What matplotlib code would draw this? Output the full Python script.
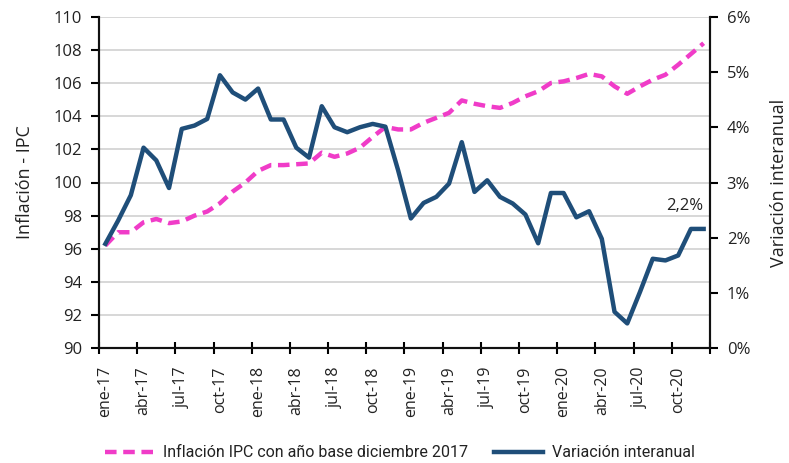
import matplotlib
matplotlib.use("Agg")
import matplotlib.pyplot as plt
from matplotlib.ticker import FixedLocator, FuncFormatter

plt.rcParams["font.family"] = ["Open Sans", "DejaVu Sans"]

months = ["ene", "feb", "mar", "abr", "may", "jun", "jul", "ago", "sep", "oct", "nov", "dic"]
years = ["17", "18", "19", "20"]
dates = [f"{m}-{y}" for y in years for m in months]

ipc = [96.2, 97.0, 97.0, 97.6, 97.8, 97.55, 97.65, 98.0, 98.25, 98.75, 99.45, 100.0,
       100.7, 101.05, 101.05, 101.1, 101.15, 101.8, 101.55, 101.75, 102.1, 102.75, 103.35, 103.2,
       103.2, 103.6, 103.9, 104.2, 104.95, 104.75, 104.6, 104.5, 104.8, 105.2, 105.5, 106.0,
       106.1, 106.3, 106.55, 106.4, 105.8, 105.35, 105.8, 106.2, 106.5, 107.1, 107.75, 108.4]

var_pct = [1.89, 2.31, 2.77, 3.63, 3.40, 2.90, 3.97, 4.03, 4.15, 4.94, 4.63, 4.50,
           4.70, 4.14, 4.14, 3.63, 3.45, 4.38, 4.00, 3.91, 4.00, 4.06, 4.01, 3.22,
           2.35, 2.63, 2.74, 2.98, 3.73, 2.83, 3.04, 2.74, 2.62, 2.42, 1.90, 2.81,
           2.81, 2.37, 2.48, 1.98, 0.66, 0.45, 1.02, 1.62, 1.59, 1.68, 2.16, 2.16]

left_ticks = list(range(90, 111, 2))
right_ticks = [0, 1, 2, 3, 4, 5, 6]
label_idx = list(range(0, 48, 3))

pink = "#f03cc8"
blue = "#1f4e79"
txt = "#222222"

fig = plt.figure(figsize=(7.89, 4.63), dpi=100)
ax = fig.add_axes([99/789, 1-348.3/463, (710-99)/789, (348.3-16.7)/463])
ax2 = ax.twinx()

x = list(range(len(dates)))
l1, = ax.plot(x, ipc, color=pink, lw=3.2, ls=(0, (2.6, 1.5)), zorder=3)
l2, = ax2.plot(x, var_pct, color=blue, lw=3.2, zorder=3)

ax.set_xlim(-0.5, 47.5)
ax.set_ylim(90, 110)
ax2.set_ylim(0, 6)
ax.set_yticks(left_ticks)
ax2.set_yticks(right_ticks)
ax2.yaxis.set_major_formatter(FuncFormatter(lambda v, p: f"{int(v)}%"))

ax.set_xticks(label_idx)
ax.set_xticklabels([dates[i] for i in label_idx], rotation=90, fontsize=11.5, color=txt)
ax.tick_params(axis="x", which="major", length=0, pad=13)
ax.xaxis.set_minor_locator(FixedLocator([i - 0.5 for i in range(0, 49, 3)]))
ax.tick_params(axis="x", which="minor", length=9, width=1.5, direction="inout")

ax.grid(axis="y", color="#d4d4d4", lw=1.3, zorder=0)
ax.set_axisbelow(True)

for a in (ax, ax2):
    a.spines["top"].set_visible(False)
    for s in ("left", "right", "bottom"):
        a.spines[s].set_linewidth(1.5)
        a.spines[s].set_color("#111111")
ax.tick_params(axis="y", length=6, width=1.5, labelsize=12, labelcolor=txt, pad=6)
ax2.tick_params(axis="y", length=6, width=1.5, labelsize=12, labelcolor=txt, pad=6)

ax.set_ylabel("Inflación - IPC", fontsize=13, color=txt, labelpad=14)
ax2.set_ylabel("Variación interanual", fontsize=13, color=txt, labelpad=14)

ax2.annotate("2,2%", xy=(47, var_pct[-1]), xytext=(0, 11), textcoords="offset points",
             ha="right", va="bottom", fontsize=12, color=txt)

leg = fig.legend([l1, l2], ["Inflación IPC con año base diciembre 2017", "Variación interanual"],
                 loc="center", bbox_to_anchor=(0.507, 0.022), ncol=2, frameon=False,
                 handlelength=3.1, columnspacing=1.6, handletextpad=0.55,
                 prop={"family": ["Roboto", "DejaVu Sans"], "size": 11.5})
for t in leg.get_texts():
    t.set_color(txt)

fig.savefig("out.png", dpi=100)
